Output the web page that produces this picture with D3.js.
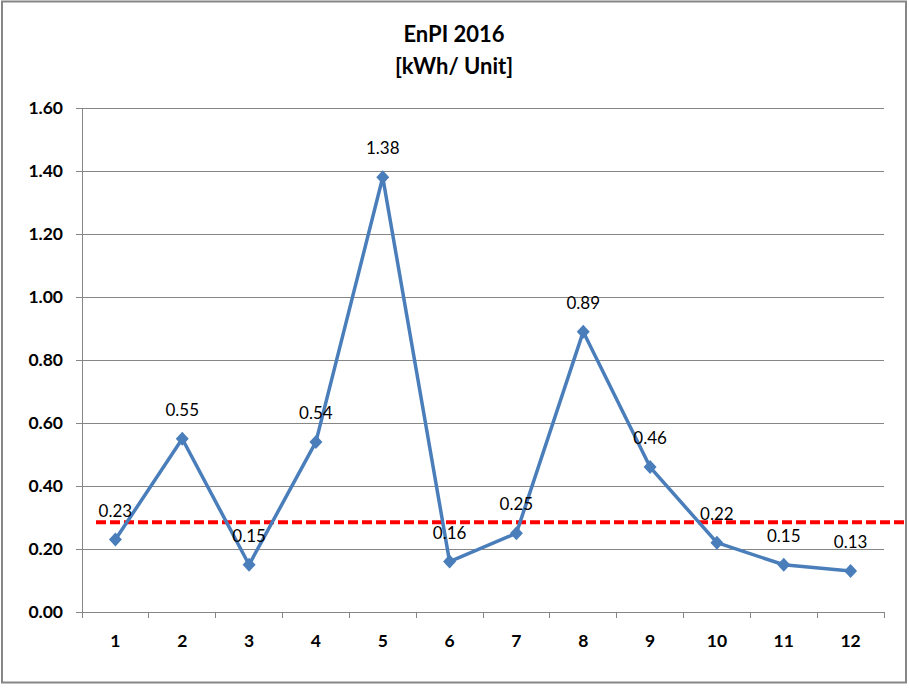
<!DOCTYPE html>
<html><head><meta charset="utf-8">
<script src="https://cdn.jsdelivr.net/npm/d3@7"></script>
<style>body{margin:0;background:#fff}</style>
</head><body>
<script>
const categories = ["1","2","3","4","5","6","7","8","9","10","11","12"];
const values = [0.23,0.55,0.15,0.54,1.38,0.16,0.25,0.89,0.46,0.22,0.15,0.13];
const target = [0.285];
const yTicks = [0,0.2,0.4,0.6,0.8,1.0,1.2,1.4,1.6];
const titleLines = ["EnPI 2016","[kWh/ Unit]"];

const W=909,H=696;
const svg=d3.select("body").append("svg").attr("width",W).attr("height",H);
svg.append("rect").attr("x",2).attr("y",1.5).attr("width",904).attr("height",681)
  .attr("fill","#fff").attr("stroke","#868686").attr("stroke-width",2);

const L=82,R=884,T=108,B=612;
const x=d3.scaleBand().domain(categories).range([L,R]);
const y=d3.scaleLinear().domain([0,1.6]).range([B,T]);
const font="Lato, 'Open Sans', sans-serif";

// grid
svg.append("g").selectAll("line").data(yTicks).join("line")
  .attr("x1",L-6).attr("x2",R).attr("y1",d=>y(d)).attr("y2",d=>y(d))
  .attr("stroke","#868686").attr("stroke-width",1).attr("shape-rendering","crispEdges");
// y axis line
svg.append("line").attr("x1",L).attr("x2",L).attr("y1",T).attr("y2",B)
  .attr("stroke","#868686").attr("shape-rendering","crispEdges");
// x ticks
const bounds=categories.map(c=>x(c)).concat([R]);
svg.append("g").selectAll("line").data(bounds).join("line")
  .attr("x1",d=>d).attr("x2",d=>d).attr("y1",B).attr("y2",B+6)
  .attr("stroke","#868686").attr("shape-rendering","crispEdges");
// y labels
svg.append("g").selectAll("text").data(yTicks).join("text")
  .attr("x",L-19).attr("y",d=>y(d)).attr("dy","0.36em").attr("text-anchor","end")
  .attr("font-family",font).attr("font-weight","bold").attr("font-size",17.5)
  .text(d=>d3.format(".2f")(d));
// x labels
svg.append("g").selectAll("text").data(categories).join("text")
  .attr("x",d=>x(d)+x.bandwidth()/2).attr("y",B+35).attr("text-anchor","middle")
  .attr("font-family",font).attr("font-weight","bold").attr("font-size",17.5)
  .text(d=>d);

// target line
svg.append("line").attr("x1",96).attr("x2",905).attr("y1",y(target[0])).attr("y2",y(target[0]))
  .attr("stroke","#ff0000").attr("stroke-width",4).attr("stroke-dasharray","10,4");

// line
const cx=(d,i)=>x(categories[i])+x.bandwidth()/2;
svg.append("path").datum(values)
  .attr("d",d3.line().x(cx).y(d=>y(d)))
  .attr("fill","none").attr("stroke","#4a7ebb").attr("stroke-width",3.5).attr("stroke-linejoin","round");
svg.append("g").selectAll("path").data(values).join("path")
  .attr("d","M0,-7L6.5,0L0,7L-6.5,0Z")
  .attr("transform",(d,i)=>`translate(${cx(d,i)},${y(d)})`)
  .attr("fill","#4a7ebb");
svg.append("g").selectAll("text").data(values).join("text")
  .attr("x",cx).attr("y",d=>y(d)-23).attr("text-anchor","middle")
  .attr("font-family",font).attr("font-size",17).attr("fill","#000")
  .text(d=>d3.format(".2f")(d));

// title
svg.append("g").selectAll("text").data(titleLines).join("text")
  .attr("x",454).attr("y",(d,i)=>42+i*32).attr("text-anchor","middle")
  .attr("font-family",font).attr("font-weight","bold").attr("font-size",22)
  .text(d=>d);
</script>
</body></html>
